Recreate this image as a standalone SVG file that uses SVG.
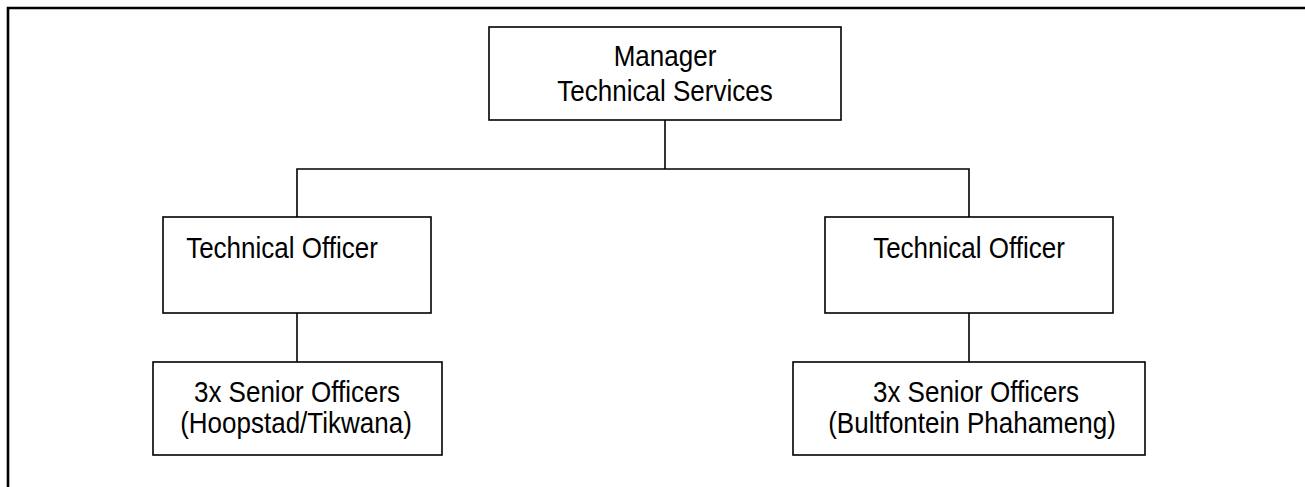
<svg xmlns="http://www.w3.org/2000/svg" width="1305" height="487" viewBox="0 0 1305 487">
  <style>
    .box { fill: #ffffff; stroke: #000000; stroke-width: 1.6; }
    .link { fill: none; stroke: #000000; stroke-width: 1.6; }
    .frame { fill: none; stroke: #000000; stroke-width: 2.6; }
    .label { font-family: "Liberation Sans", Arial, sans-serif; font-size: 26px; fill: #000000; text-anchor: middle; }
  </style>
  <rect width="1305" height="487" fill="#ffffff"/>

  <!-- page frame: top and left edges only -->
  <path class="frame" d="M8 487 V8 H1305"/>

  <!-- connectors -->
  <g id="connectors">
    <path class="link" d="M665 120 V169"/>
    <path class="link" d="M297 217 V169 H969 V217"/>
    <path class="link" d="M297 313 V362"/>
    <path class="link" d="M969 313 V362"/>
  </g>

  <!-- labels are slightly stretched vertically (narrow-looking type) -->
  <g id="manager">
    <rect class="box" x="489" y="27" width="352" height="93"/>
    <text class="label" transform="translate(665 66) scale(1 1.1)">Manager</text>
    <text class="label" transform="translate(665 101) scale(1 1.1)">Technical Services</text>
  </g>

  <g id="officer-left">
    <rect class="box" x="163" y="217" width="268" height="96"/>
    <text class="label" transform="translate(282 258) scale(1 1.1)">Technical Officer</text>
  </g>

  <g id="officer-right">
    <rect class="box" x="825" y="217" width="288" height="96"/>
    <text class="label" transform="translate(969 258) scale(1 1.1)">Technical Officer</text>
  </g>

  <g id="seniors-left">
    <rect class="box" x="153" y="362" width="289" height="93"/>
    <text class="label" transform="translate(297 402) scale(1 1.1)">3x Senior Officers</text>
    <text class="label" transform="translate(296 433) scale(1 1.1)">(Hoopstad/Tikwana)</text>
  </g>

  <g id="seniors-right">
    <rect class="box" x="793" y="362" width="352" height="93"/>
    <text class="label" transform="translate(976 402) scale(1 1.1)">3x Senior Officers</text>
    <text class="label" transform="translate(972 433) scale(1 1.1)">(Bultfontein Phahameng)</text>
  </g>
</svg>
